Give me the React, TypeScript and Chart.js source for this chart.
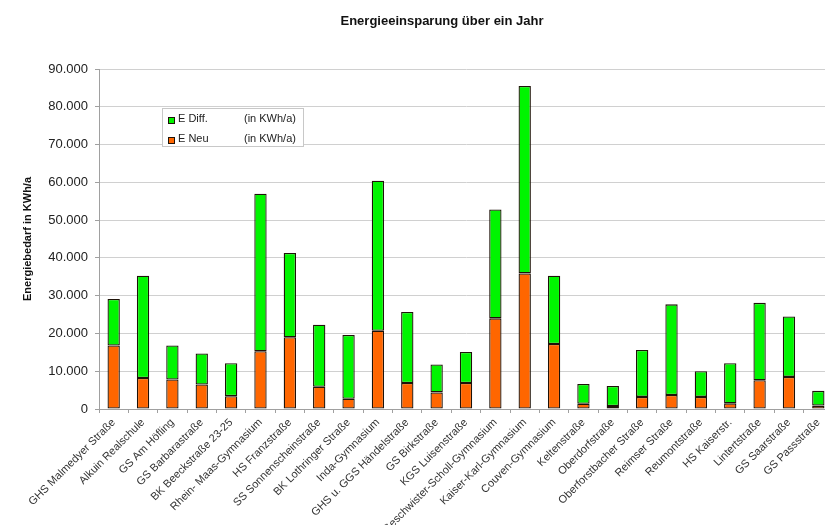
import React, { useEffect, useRef } from 'react';
import { Chart, registerables } from 'chart.js';

Chart.register(...registerables);

const chartTitle = 'Energieeinsparung über ein Jahr';
const yAxisTitle = 'Energiebedarf in KWh/a';

const categories = [
  'GHS Malmedyer Straße',
  'Alkuin Realschule',
  'GS Am Höfling',
  'GS Barbarastraße',
  'BK Beeckstraße 23-25',
  'Rhein- Maas-Gymnasium',
  'HS Franzstraße',
  'SS Sonnenscheinstraße',
  'BK Lothringer Straße',
  'Inda-Gymnasium',
  'GHS u. GGS Händelstraße',
  'GS Birkstraße',
  'KGS Luisenstraße',
  'Geschwister-Scholl-Gymnasium',
  'Kaiser-Karl-Gymnasium',
  'Couven-Gymnasium',
  'Keltenstraße',
  'Oberdorfstraße',
  'Oberforstbacher Straße',
  'Reimser Straße',
  'Reumontstraße',
  'HS Kaiserstr.',
  'Lintertstraße',
  'GS Saarstraße',
  'GS Passstraße',
];

const eNeu = [
  16800, 8200, 7800, 6500, 3400, 15300, 19000, 5900, 2700, 20700, 6900, 4400,
  6900, 24000, 35900, 17200, 1400, 800, 3200, 3700, 3200, 1500, 7600, 8500, 900,
];

const eDiff = [
  12300, 27100, 9000, 8200, 8700, 41700, 22300, 16400, 16900, 39700, 18800, 7400,
  8200, 28800, 49600, 18100, 5200, 5300, 12400, 24000, 6800, 10600, 20500, 16000, 3900,
];

const legendLabels = ['E Diff.', 'E Neu'];
const legendUnits = ['(in KWh/a)', '(in KWh/a)'];

const yMin = 0;
const yMax = 90000;
const yStep = 10000;

const GREEN = '#00f500';
const ORANGE = '#ff6600';
const BORDER = '#1e1208';
const FONT = '"Liberation Sans", Arial, sans-serif';

const formatDe = (v: number) =>
  String(Math.round(v)).replace(/\B(?=(\d{3})+(?!\d))/g, '.');

const titlePlugin = {
  id: 'customTitle',
  afterDraw(chart: any) {
    const ctx = chart.ctx;
    ctx.save();
    ctx.font = `bold 13px ${FONT}`;
    ctx.fillStyle = '#111';
    ctx.textAlign = 'center';
    ctx.textBaseline = 'middle';
    ctx.fillText(chartTitle, 442, 21);
    ctx.restore();
  },
};

const legendPlugin = {
  id: 'customLegend',
  afterDraw(chart: any) {
    const ctx = chart.ctx;
    const a = chart.chartArea;
    const x = a.left + 63;
    const y = a.top + 39;
    const w = 141;
    const h = 38;
    ctx.save();
    ctx.fillStyle = '#ffffff';
    ctx.fillRect(x, y, w, h);
    ctx.beginPath();
    ctx.rect(x, y, w, h);
    ctx.clip();
    const colors = [GREEN, ORANGE];
    ctx.font = `11px ${FONT}`;
    ctx.textBaseline = 'middle';
    ctx.textAlign = 'left';
    for (let i = 0; i < legendLabels.length; i++) {
      const cy = y + 11 + i * 20;
      ctx.fillStyle = colors[i];
      ctx.fillRect(x + 6, cy - 2, 6, 6);
      ctx.strokeStyle = BORDER;
      ctx.lineWidth = 1;
      ctx.strokeRect(x + 6.5, cy - 1.5, 6, 6);
      ctx.fillStyle = '#222';
      ctx.fillText(legendLabels[i], x + 16, cy);
      ctx.fillText(legendUnits[i], x + 82, cy);
    }
    ctx.restore();
    ctx.save();
    ctx.strokeStyle = '#c8c8c8';
    ctx.lineWidth = 1;
    ctx.strokeRect(x + 0.5, y + 0.5, w, h);
    ctx.restore();
  },
};

export default function App() {
  const canvasRef = useRef<HTMLCanvasElement | null>(null);

  useEffect(() => {
    const canvas = canvasRef.current;
    if (!canvas) return;
    const chart = new Chart(canvas, {
      type: 'bar',
      data: {
        labels: categories,
        datasets: [
          {
            label: legendLabels[1],
            data: eNeu,
            backgroundColor: ORANGE,
            borderColor: BORDER,
            borderWidth: 1.3,
            borderSkipped: false,
            categoryPercentage: 1,
            barPercentage: 0.42,
          },
          {
            label: legendLabels[0],
            data: eDiff,
            backgroundColor: GREEN,
            borderColor: BORDER,
            borderWidth: 1.3,
            borderSkipped: false,
            categoryPercentage: 1,
            barPercentage: 0.42,
          },
        ],
      },
      options: {
        responsive: false,
        animation: false,
        layout: { padding: { top: 69, left: 0, right: 0, bottom: 0 } },
        plugins: {
          legend: { display: false },
          tooltip: { enabled: false },
          title: { display: false },
        },
        scales: {
          x: {
            stacked: true,
            grid: {
              display: true,
              drawOnChartArea: false,
              drawTicks: true,
              tickLength: 4,
              tickColor: '#a0a0a0',
            },
            border: { color: '#a0a0a0', width: 1 },
            ticks: {
              autoSkip: false,
              minRotation: 45,
              maxRotation: 45,
              padding: 3,
              color: '#333',
              font: { family: FONT, size: 11 },
            },
            afterFit(scale: any) {
              scale.height = 116;
            },
          },
          y: {
            stacked: true,
            min: yMin,
            max: yMax,
            ticks: {
              stepSize: yStep,
              padding: 7,
              color: '#222',
              font: { family: FONT, size: 13 },
              callback: (v: any) => formatDe(Number(v)),
            },
            grid: {
              color: '#d0d0d0',
              lineWidth: 1,
              drawTicks: true,
              tickLength: 4,
              tickColor: '#a0a0a0',
            },
            border: { color: '#a0a0a0', width: 1 },
            title: {
              display: true,
              text: yAxisTitle,
              color: '#111',
              font: { family: FONT, size: 11, weight: 'bold' },
              padding: { top: 21, bottom: 0 },
            },
            afterFit(scale: any) {
              scale.width = 99;
            },
          },
        },
      },
      plugins: [titlePlugin, legendPlugin],
    });
    return () => chart.destroy();
  }, []);

  return (
    <div
      style={{
        position: 'fixed',
        left: 0,
        top: 0,
        width: 825,
        height: 525,
        overflow: 'hidden',
        background: '#fff',
      }}
    >
      <canvas
        ref={canvasRef}
        width={833}
        height={525}
        style={{ width: 833, height: 525, display: 'block' }}
      />
    </div>
  );
}
